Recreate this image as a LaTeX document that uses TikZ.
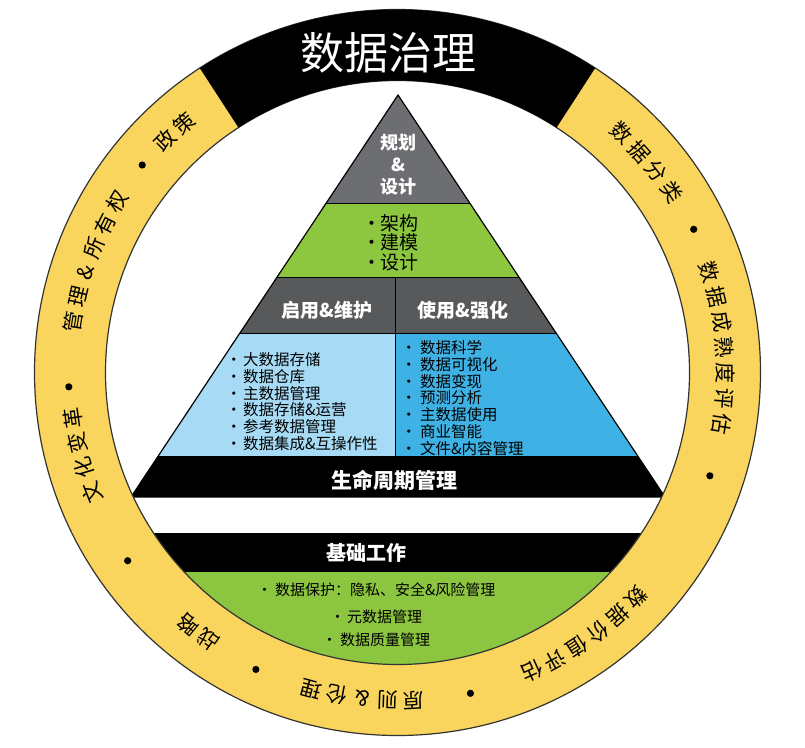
\documentclass[tikz,border=0pt]{standalone}
\usepackage{fontspec}
\newfontfamily\cjk{Noto Sans CJK SC}
\usetikzlibrary{calc}
\definecolor{ringY}{HTML}{F9D55E}
\definecolor{ringL}{HTML}{333333}
\definecolor{pgray}{HTML}{6D6E71}
\definecolor{dgray}{HTML}{58595B}
\definecolor{pgreen}{HTML}{8DC63F}
\definecolor{bgreen}{HTML}{8CC540}
\definecolor{lblue}{HTML}{A7DBF5}
\definecolor{dblue}{HTML}{3FB2E5}
\tikzset{
  ringch/.style={inner sep=0pt, font=\cjk\fontsize{21}{23}\selectfont},
  wbold/.style={inner sep=0pt, text=white, font=\cjk\bfseries\fontsize{#1}{#1}\selectfont},
  listtxt/.style={inner sep=0pt, anchor=west, font=\cjk\fontsize{#1}{#1}\selectfont},
  ringline/.style={draw=ringL, line width=1.2pt},
  secline/.style={draw=black, line width=1pt}
}
\newcommand\ringtext[4]{%
  \foreach \ch [count=\i] in {#4}{%
    \pgfmathsetmacro\ang{#2+((#3+1)/2-\i)*4.5}%
    \pgfmathsetmacro\rot{\ang-90}%
    \node[ringch, rotate=\rot] (#1\i) at ({397.5+328*cos(\ang)},{372.5-328*sin(\ang)}) {\ch};
  }}
\newcommand\bul[2]{\makebox[#1][l]{·}#2}
\begin{document}
\begin{tikzpicture}[x=1pt,y=-1pt]
\useasboundingbox (0,0) rectangle (805,747);
\fill[white] (0,0) rectangle (805,747);
\coordinate (C) at (397.5,372.5);
% ---------- pyramid ----------
\coordinate (A) at (398,95);
\coordinate (L) at (131,497);
\coordinate (R) at (665,497);
\begin{scope}
  \clip (A)--(L)--(R)--cycle;
  \fill[pgray] (0,90) rectangle (805,203);
  \fill[pgreen] (0,203) rectangle (805,277);
  \fill[dgray] (0,277) rectangle (805,333);
  \fill[lblue] (0,333) rectangle (395,456);
  \fill[dblue] (395,333) rectangle (805,456);
  \fill[black] (0,456) rectangle (805,497);
  \draw[secline] (0,203)--(805,203);
  \draw[secline] (0,277)--(805,277);
  \draw[secline] (0,333)--(805,333);
  \draw[secline] (395,277)--(395,456);
\end{scope}
\draw[line width=1.2pt] (A)--(L)--(R)--cycle;
% ---------- foundation ----------
\begin{scope}
  \clip (C) circle[radius=292];
  \fill[black] (0,533) rectangle (805,572);
  \fill[bgreen] (0,572) rectangle (805,747);
\end{scope}
% ---------- ring ----------
\fill[ringY, even odd rule] (C) circle[radius=363] (C) circle[radius=292];
\draw[ringline] (C) circle[radius=363];
\draw[ringline] (C) circle[radius=292];
\fill[black] ($(C)+(-57:363)$) arc[start angle=-57,end angle=-123,radius=363]
  -- ($(C)+(-123:292)$) arc[start angle=-123,end angle=-57,radius=292] -- cycle;
\node[inner sep=0pt, text=white, font=\cjk\fontsize{44}{48}\selectfont] (title) at (388,53) {数据治理};
\foreach \a in {140.9,182.5,214.9,244.5,282.8,341.7,25.8}
  \fill ({397.5+329*cos(\a)},{372.5-329*sin(\a)}) circle[radius=3.6];
\ringtext{pol}{132.8}{2}{政,策}
\ringtext{own}{159.9}{6}{管,理,\&,所,有,权}
\ringtext{cul}{194.7}{4}{文,化,变,革}
\ringtext{str}{232.5}{2}{战,略}
\ringtext{eth}{263.8}{5}{原,则,\&,伦,理}
\ringtext{val}{305.5}{6}{数,据,价,值,评,估}
\ringtext{mat}{4.4}{7}{数,据,成,熟,度,评,估}
\ringtext{cls}{40.1}{4}{数,据,分,类}
% ---------- pyramid texts ----------
\node[wbold=18, align=center, font=\cjk\bfseries\fontsize{18}{22}\selectfont] (plan) at (398,165) {规划\\\&\\设计};
\foreach \t [count=\i from 0] in {架构,建模,设计}
  \node[listtxt=19] (g\i) at (362,223+19.5*\i) {\bul{18pt}{\t}};
\node[wbold=19] (enable) at (327,310) {启用\&维护};
\node[wbold=19] (use) at (463,310) {使用\&强化};
\foreach \t [count=\i from 0] in {大数据存储,数据仓库,主数据管理,数据存储\&运营,参考数据管理,数据集成\&互操作性}
  \node[listtxt=15.5] (l\i) at (226,360+16.7*\i) {\bul{17pt}{\t}};
\foreach \t [count=\i from 0] in {数据科学,数据可视化,数据变现,预测分析,主数据使用,商业智能,文件\&内容管理}
  \node[listtxt=15.5] (r\i) at (401,348+16.7*\i) {\bul{19pt}{\t}};
\node[wbold=21] (life) at (394,480) {生命周期管理};
\node[wbold=20] (found) at (366,553) {基础工作};
\node[listtxt=15] (b0) at (257,590) {\bul{18pt}{数据保护：隐私、安全\&风险管理}};
\node[listtxt=15] (b1) at (330,617) {\bul{17pt}{元数据管理}};
\node[listtxt=15] (b2) at (322,640) {\bul{18pt}{数据质量管理}};
\end{tikzpicture}
\end{document}
